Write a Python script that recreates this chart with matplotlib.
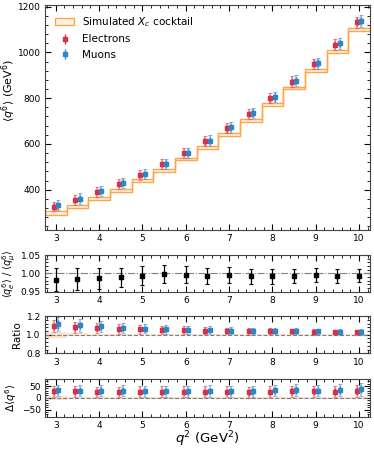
import numpy as np
import matplotlib
matplotlib.use("Agg")
import matplotlib.pyplot as plt
from matplotlib.ticker import AutoMinorLocator, MultipleLocator, FormatStrFormatter

# q^2 bin centres and edges (GeV^2)
q2_centers = [3.0, 3.5, 4.0, 4.5, 5.0, 5.5, 6.0, 6.5, 7.0, 7.5, 8.0, 8.5, 9.0, 9.5, 10.0]
q2_edges = [2.75, 3.25, 3.75, 4.25, 4.75, 5.25, 5.75, 6.25, 6.75, 7.25, 7.75, 8.25, 8.75, 9.25, 9.75, 10.25]

# <q^6> moments (GeV^6)
cocktail = [298, 327, 361, 397, 439, 484, 534, 586, 641, 704, 771, 844, 922, 1005, 1099]
cocktail_err = [8, 6, 6, 6, 6, 6, 6, 6, 6, 6, 6, 6, 6, 6, 6]
electrons = [327, 356, 390, 426, 465, 512, 560, 612, 669, 731, 799, 872, 950, 1034, 1131]
electrons_stat = [14, 14, 14, 14, 14, 14, 14, 15, 15, 15, 15, 16, 16, 16, 17]
electrons_tot = [21, 21, 21, 21, 21, 21, 21, 22, 22, 22, 22, 23, 23, 23, 25]
muons = [333, 362, 395, 430, 469, 513, 561, 615, 672, 735, 805, 877, 953, 1039, 1136]
muons_stat = [15, 15, 15, 15, 15, 15, 15, 16, 16, 16, 16, 16, 17, 17, 18]
muons_tot = [22, 22, 22, 22, 22, 22, 22, 23, 23, 23, 23, 24, 24, 24, 27]

# electron / muon ratio
ratio_em = [0.983, 0.986, 0.987, 0.989, 0.994, 0.998, 0.997, 0.994, 0.995, 0.992, 0.992, 0.993, 0.996, 0.993, 0.994]
ratio_em_err = [0.032, 0.030, 0.029, 0.027, 0.026, 0.025, 0.024, 0.022, 0.022, 0.021, 0.020, 0.020, 0.019, 0.018, 0.018]

# data / cocktail
ratio_e = [1.09, 1.08, 1.07, 1.06, 1.06, 1.055, 1.05, 1.045, 1.04, 1.035, 1.035, 1.035, 1.03, 1.025, 1.025]
ratio_e_err = [0.065, 0.06, 0.055, 0.05, 0.047, 0.044, 0.041, 0.038, 0.036, 0.034, 0.032, 0.031, 0.03, 0.029, 0.028]
ratio_mu = [1.11, 1.10, 1.09, 1.075, 1.065, 1.06, 1.055, 1.05, 1.045, 1.04, 1.04, 1.04, 1.035, 1.03, 1.03]
ratio_mu_err = [0.075, 0.068, 0.062, 0.056, 0.051, 0.047, 0.044, 0.041, 0.038, 0.036, 0.034, 0.032, 0.031, 0.03, 0.029]
ratio_band = [0.03, 0.015, 0.012, 0.01, 0.008, 0.008, 0.007, 0.007, 0.006, 0.006, 0.006, 0.006, 0.005, 0.005, 0.005]

# data - cocktail (GeV^6)
delta_e = [27, 27, 25, 25, 26, 26, 26, 25, 25, 23, 25, 27, 28, 26, 29]
delta_e_err = [22, 22, 22, 22, 22, 22, 22, 23, 23, 23, 23, 24, 24, 24, 26]
delta_mu = [32, 30, 30, 30, 28, 28, 27, 29, 28, 28, 32, 33, 31, 33, 36]
delta_mu_err = [23, 23, 23, 23, 23, 23, 23, 24, 24, 24, 24, 25, 25, 26, 28]
delta_band = [8, 5, 5, 5, 4, 4, 4, 4, 4, 4, 4, 4, 4, 4, 4]

RED = "#d6304c"
BLUE = "#2f86c6"
ORANGE = "#ffa54a"
shift = 0.05


def style_axis(ax):
    ax.tick_params(which="both", direction="in", top=True, right=True, labelsize=6.5)
    ax.tick_params(which="major", length=4, pad=3)
    ax.tick_params(which="minor", length=2)
    ax.xaxis.set_major_locator(MultipleLocator(1))
    ax.xaxis.set_minor_locator(AutoMinorLocator(5))
    ax.yaxis.set_minor_locator(AutoMinorLocator(5))
    ax.set_xlim(2.75, 10.25)
    for s in ax.spines.values():
        s.set_color("#444444")


def data_points(ax, x, y, stat, tot, color, label=None):
    ax.errorbar(x, y, yerr=tot, fmt="none", ecolor=color, alpha=0.5,
                elinewidth=1.2, capsize=1.5, capthick=0.8)
    ax.errorbar(x, y, yerr=stat, fmt="s", color=color, ms=3.5,
                elinewidth=1.0, capsize=0, label=label)


def step_band(ax, centre, err, **kw):
    c = np.array(centre, dtype=float)
    e = np.array(err, dtype=float)
    lo = np.append(c - e, c[-1] - e[-1])
    hi = np.append(c + e, c[-1] + e[-1])
    return ax.fill_between(q2_edges, lo, hi, step="post", **kw)


fig = plt.figure(figsize=(3.74, 4.49), dpi=100)
left, width = 0.1203, 0.8687
ax1 = fig.add_axes([left, 0.488, width, 0.501])
ax2 = fig.add_axes([left, 0.350, width, 0.082])
ax3 = fig.add_axes([left, 0.213, width, 0.083])
ax4 = fig.add_axes([left, 0.072, width, 0.084])

xe = np.array(q2_centers) - shift
xm = np.array(q2_centers) + shift

# main panel
step_band(ax1, cocktail, cocktail_err, facecolor=(1.0, 0.65, 0.29, 0.15),
          edgecolor=ORANGE, linewidth=1.0, label="Simulated $X_c$ cocktail")
data_points(ax1, xe, electrons, electrons_stat, electrons_tot, RED, "Electrons")
data_points(ax1, xm, muons, muons_stat, muons_tot, BLUE, "Muons")
ax1.set_ylim(225, 1207)
style_axis(ax1)
ax1.yaxis.set_major_locator(MultipleLocator(200))
ax1.set_ylabel(r"$\langle q^6 \rangle$ (GeV$^6$)", fontsize=8)
ax1.yaxis.set_label_coords(-0.083, 0.62)
ax1.legend(loc="upper left", frameon=False, fontsize=7.5, handlelength=1.8,
           borderaxespad=0.6, labelspacing=0.5)

# electron / muon ratio
ax2.axhline(1.0, color="gray", ls="-.", lw=0.8)
ax2.errorbar(q2_centers, ratio_em, yerr=ratio_em_err, fmt="s", color="black",
             ms=3, elinewidth=0.9, capsize=1.5, capthick=0.8)
ax2.set_ylim(0.95, 1.05)
style_axis(ax2)
ax2.yaxis.set_major_locator(MultipleLocator(0.05))
ax2.yaxis.set_major_formatter(FormatStrFormatter("%.2f"))
ax2.set_ylabel(r"$\langle q_e^6 \rangle$ / $\langle q_\mu^6 \rangle$", fontsize=7, labelpad=2)

# data / cocktail
step_band(ax3, [1.0] * len(q2_centers), ratio_band, facecolor=ORANGE, alpha=0.3,
          linewidth=0)
ax3.axhline(1.0, color="gray", ls="--", lw=0.8)
data_points(ax3, xe, ratio_e, np.array(ratio_e_err) * 0.6, ratio_e_err, RED)
data_points(ax3, xm, ratio_mu, np.array(ratio_mu_err) * 0.6, ratio_mu_err, BLUE)
ax3.set_ylim(0.8, 1.2)
style_axis(ax3)
ax3.yaxis.set_major_locator(MultipleLocator(0.2))
ax3.set_ylabel("Ratio", fontsize=7.5, labelpad=3)

# data - cocktail
step_band(ax4, [0.0] * len(q2_centers), delta_band, facecolor=ORANGE, alpha=0.3,
          linewidth=0)
ax4.axhline(0.0, color="gray", ls="--", lw=0.8)
data_points(ax4, xe, delta_e, np.array(delta_e_err) * 0.6, delta_e_err, RED)
data_points(ax4, xm, delta_mu, np.array(delta_mu_err) * 0.6, delta_mu_err, BLUE)
ax4.set_ylim(-80, 80)
style_axis(ax4)
ax4.yaxis.set_major_locator(MultipleLocator(50))
ax4.set_ylabel(r"$\Delta \langle q^6 \rangle$", fontsize=7.5, labelpad=2)
ax4.set_xlabel(r"$q^2$ (GeV$^2$)", fontsize=9.5, labelpad=0)

fig.savefig("out.png", dpi=100)
